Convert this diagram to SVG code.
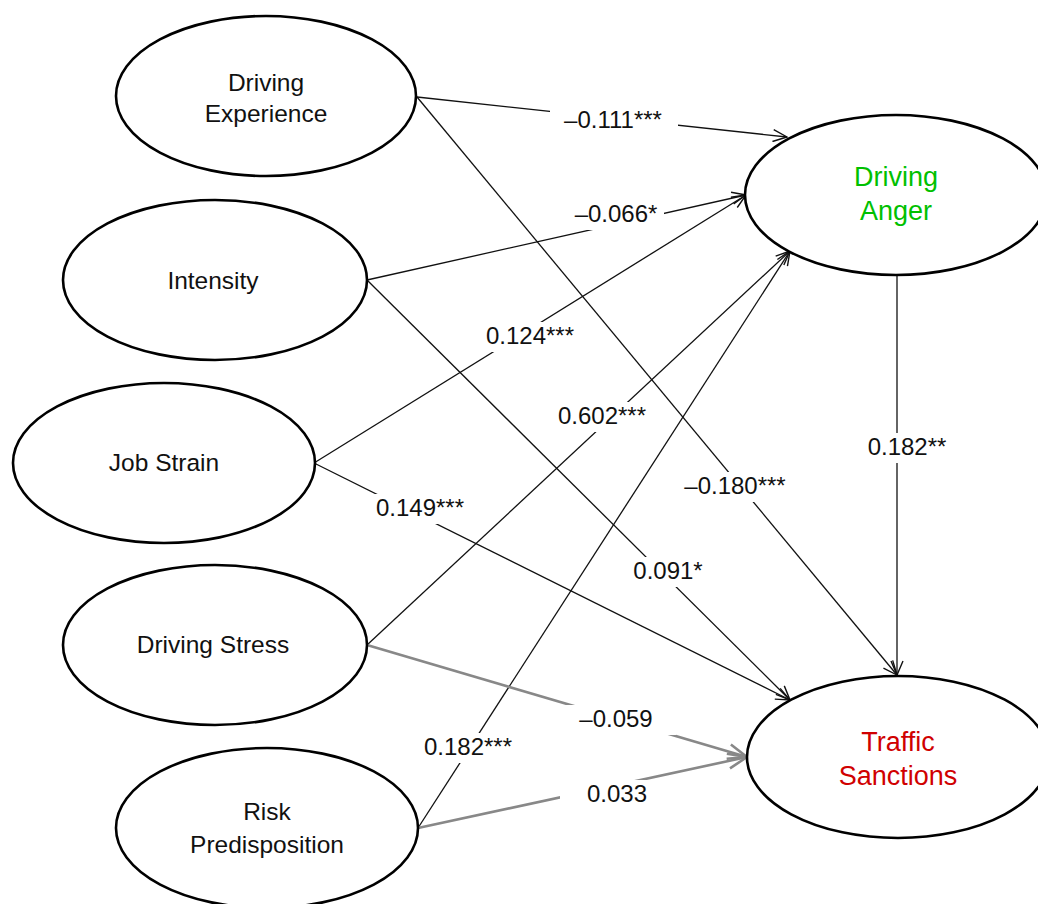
<svg xmlns="http://www.w3.org/2000/svg" width="1038" height="904" viewBox="0 0 1038 904">
<style>
.node{fill:#fff;stroke:#000;stroke-width:2.6}
.t{font-family:"Liberation Sans",Arial,sans-serif;font-size:24.5px;fill:#111;text-anchor:middle}
.big{font-size:27px}
.e{stroke:#111;stroke-width:1.3;fill:none}
.g{stroke:#888;stroke-width:2.6;fill:none}
.lb{font-family:"Liberation Sans",Arial,sans-serif;font-size:24px;fill:#111;text-anchor:middle}
.bg{fill:#fff}
</style>
<defs>
<marker id="ab" markerUnits="userSpaceOnUse" viewBox="0 0 16 14" refX="15" refY="7" markerWidth="16" markerHeight="14" orient="auto">
<path d="M1,1 L15,7 L1,13" fill="none" stroke="#111" stroke-width="1.4"/>
</marker>
<marker id="ag" markerUnits="userSpaceOnUse" viewBox="0 0 22 18" refX="20" refY="9" markerWidth="22" markerHeight="18" orient="auto">
<path d="M1,1.5 L20,9 L1,16.5" fill="none" stroke="#888" stroke-width="2.6"/>
</marker>
</defs>
<rect width="1038" height="904" fill="#fff"/>
<g id="connectors">
<line class="e" x1="417" y1="97" x2="787" y2="137" marker-end="url(#ab)"/>
<line class="e" x1="417" y1="97" x2="897" y2="675" marker-end="url(#ab)"/>
<line class="e" x1="367" y1="280" x2="746" y2="195" marker-end="url(#ab)"/>
<line class="e" x1="367" y1="280" x2="790" y2="700" marker-end="url(#ab)"/>
<line class="e" x1="314" y1="463" x2="746" y2="195" marker-end="url(#ab)"/>
<line class="e" x1="314" y1="463" x2="790" y2="700" marker-end="url(#ab)"/>
<line class="e" x1="367" y1="645" x2="790" y2="251" marker-end="url(#ab)"/>
<line class="e" x1="418" y1="828" x2="790" y2="251" marker-end="url(#ab)"/>
<line class="e" x1="897" y1="274" x2="897" y2="675" marker-end="url(#ab)"/>
<line class="g" x1="367" y1="645" x2="747" y2="757" marker-end="url(#ag)"/>
<line class="g" x1="418" y1="828" x2="747" y2="757" marker-end="url(#ag)"/>
<g id="labels">
<rect class="bg" x="550" y="106" width="128" height="30"/>
<text class="lb" x="613" y="128">–0.111***</text>
<rect class="bg" x="568" y="200" width="96" height="30"/>
<text class="lb" x="616" y="222">–0.066*</text>
<rect class="bg" x="478" y="322" width="104" height="30"/>
<text class="lb" x="530" y="344">0.124***</text>
<rect class="bg" x="550" y="402" width="104" height="30"/>
<text class="lb" x="602" y="424">0.602***</text>
<rect class="bg" x="368" y="494" width="104" height="30"/>
<text class="lb" x="420" y="516">0.149***</text>
<rect class="bg" x="860" y="433" width="94" height="30"/>
<text class="lb" x="907" y="455">0.182**</text>
<rect class="bg" x="678" y="472" width="116" height="30"/>
<text class="lb" x="735" y="494">–0.180***</text>
<rect class="bg" x="628" y="557" width="82" height="30"/>
<text class="lb" x="668" y="579">0.091*</text>
<rect class="bg" x="556" y="705" width="120" height="30"/>
<text class="lb" x="616" y="727">–0.059</text>
<rect class="bg" x="560" y="780" width="116" height="30"/>
<text class="lb" x="617" y="802">0.033</text>
<rect class="bg" x="416" y="733" width="104" height="30"/>
<text class="lb" x="468" y="755">0.182***</text>
</g>
</g>
<g id="driving-experience">
<ellipse class="node" cx="266" cy="96" rx="150" ry="80"/>
<text class="t" x="266" y="91">Driving</text>
<text class="t" x="266" y="122">Experience</text>
</g>
<g id="intensity">
<ellipse class="node" cx="215" cy="280" rx="152" ry="80"/>
<text class="t" x="213" y="289">Intensity</text>
</g>
<g id="job-strain">
<ellipse class="node" cx="164" cy="463" rx="151" ry="80"/>
<text class="t" x="164" y="471">Job Strain</text>
</g>
<g id="driving-stress">
<ellipse class="node" cx="215" cy="645" rx="152" ry="80"/>
<text class="t" x="213" y="653">Driving Stress</text>
</g>
<g id="risk-predisposition">
<ellipse class="node" cx="267" cy="828" rx="151" ry="80"/>
<text class="t" x="267" y="820">Risk</text>
<text class="t" x="267" y="853">Predisposition</text>
</g>
<g id="driving-anger">
<ellipse class="node" cx="896" cy="195" rx="151" ry="80"/>
<text class="t big" x="896" y="186" style="fill:#00c000">Driving</text>
<text class="t big" x="896" y="220" style="fill:#00c000">Anger</text>
</g>
<g id="traffic-sanctions">
<ellipse class="node" cx="898" cy="757" rx="151" ry="81"/>
<text class="t big" x="898" y="751" style="fill:#d00000">Traffic</text>
<text class="t big" x="898" y="785" style="fill:#d00000">Sanctions</text>
</g>
</svg>
